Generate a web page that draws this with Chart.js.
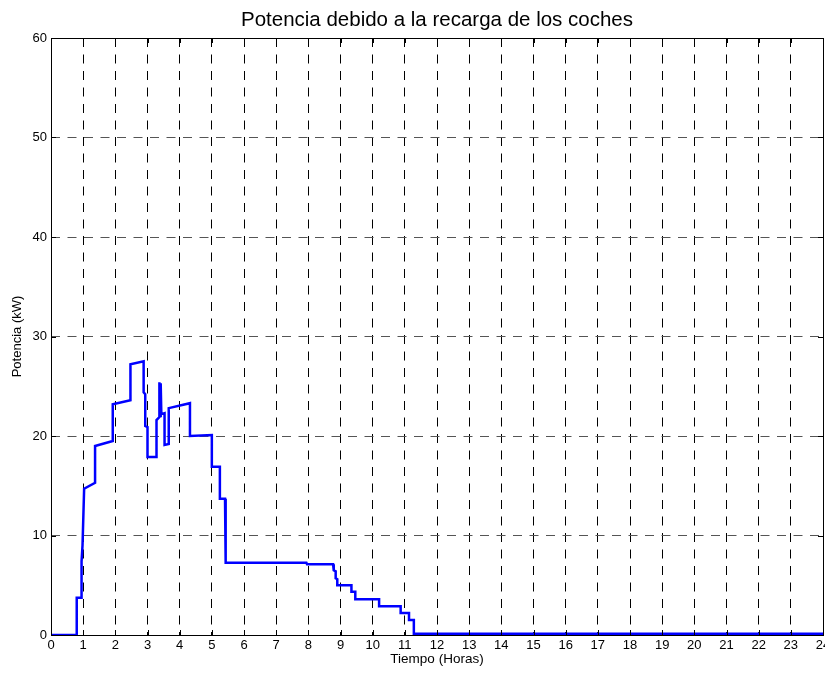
<!DOCTYPE html>
<html>
<head>
<meta charset="utf-8">
<script src="https://cdn.jsdelivr.net/npm/chart.js@4"></script>
<style>
  html, body { margin: 0; padding: 0; background: #fff; overflow: hidden; }
  #wrap { width: 850px; height: 674px; }
</style>
</head>
<body>
<div id="wrap"><canvas id="chart"></canvas></div>
<script>
// tiempo (horas) y potencia (kW)
var tiempo = [0, 0.80, 0.80, 0.95, 0.95, 0.98, 1.03, 1.37, 1.37, 1.92, 1.92, 2.47, 2.47, 2.88,
    2.88, 2.93, 2.93, 3.00, 3.00, 3.28, 3.28, 3.37, 3.37, 3.39, 3.41, 3.43, 3.53, 3.53, 3.66,
    3.66, 4.32, 4.32, 5.00, 5.00, 5.25, 5.25, 5.41, 5.42, 5.44, 7.94, 7.96, 8.77, 8.79, 8.85,
    8.85, 8.90, 8.90, 9.34, 9.34, 9.46, 9.46, 10.20, 10.20, 10.87, 10.87, 11.13, 11.13, 11.28,
    11.28, 24];
var potencia = [0, 0, 3.75, 3.75, 7.4, 9.0, 14.7, 15.3, 19.0, 19.5, 23.2, 23.6, 27.2, 27.5,
    24.4, 24.2, 21.0, 20.9, 17.9, 17.9, 21.6, 21.9, 25.4, 22.0, 25.3, 22.2, 22.3, 19.1, 19.2,
    22.8, 23.3, 20.0, 20.1, 16.9, 16.9, 13.7, 13.7, 10.5, 7.27, 7.25, 7.1, 7.1, 6.5, 6.4,
    5.7, 5.6, 5.0, 5.0, 4.35, 4.35, 3.6, 3.6, 2.9, 2.9, 2.2, 2.2, 1.5, 1.5,
    0.12, 0.12];

var xTicks = [0, 24, 1];
var yTicks = [0, 60, 10];

var puntos = tiempo.map(function (t, i) {
    return { x: t, y: potencia[i] };
});

var fuente = "'Liberation Sans', Arial, sans-serif";

// marco negro y marcas hacia dentro, como en matlab
var marco = {
    id: 'marco',
    afterDraw: function (chart) {
        var ctx = chart.ctx;
        var a = chart.chartArea;
        var sx = chart.scales.x;
        var sy = chart.scales.y;
        ctx.save();
        ctx.strokeStyle = '#000';
        ctx.lineWidth = 1;
        ctx.beginPath();
        for (var v = xTicks[0]; v <= xTicks[1]; v += xTicks[2]) {
            var px = Math.round(sx.getPixelForValue(v)) + 0.5;
            ctx.moveTo(px, a.bottom); ctx.lineTo(px, a.bottom - 5);
            ctx.moveTo(px, a.top); ctx.lineTo(px, a.top + 5);
        }
        for (var w = yTicks[0]; w <= yTicks[1]; w += yTicks[2]) {
            var py = Math.round(sy.getPixelForValue(w)) + 0.5;
            ctx.moveTo(a.left, py); ctx.lineTo(a.left + 5, py);
            ctx.moveTo(a.right, py); ctx.lineTo(a.right - 5, py);
        }
        ctx.stroke();
        ctx.strokeRect(Math.round(a.left) + 0.5, Math.round(a.top) + 0.5,
            Math.round(a.right - a.left), Math.round(a.bottom - a.top));
        ctx.restore();
    }
};

var ctx = document.getElementById('chart');
var chart = new Chart(ctx, {
    type: 'line',
    data: {
        datasets: [{
            data: puntos,
            borderColor: '#0000ff',
            borderWidth: 2.5,
            pointRadius: 0,
            tension: 0,
            fill: false
        }]
    },
    options: {
        responsive: true,
        maintainAspectRatio: false,
        animation: false,
        events: [],
        layout: { padding: { top: 0, right: 27, bottom: 0, left: 0 } },
        plugins: {
            legend: { display: false },
            tooltip: { enabled: false },
            title: {
                display: true,
                fullSize: false,
                text: 'Potencia debido a la recarga de los coches',
                color: '#000',
                font: { family: fuente, size: 20.5, weight: 'normal', lineHeight: 1.2 },
                padding: { top: 8, bottom: 5.4 }
            }
        },
        scales: {
            x: {
                type: 'linear',
                min: xTicks[0],
                max: xTicks[1],
                afterFit: function (s) { s.height = 39; },
                ticks: {
                    stepSize: xTicks[2],
                    autoSkip: false,
                    maxRotation: 0,
                    padding: 3,
                    color: '#000',
                    font: { family: fuente, size: 13 }
                },
                grid: {
                    color: '#000',
                    lineWidth: 1,
                    drawTicks: false
                },
                border: { display: false, dash: [9, 7.5] },
                title: {
                    display: true,
                    text: 'Tiempo (Horas)',
                    color: '#000',
                    font: { family: fuente, size: 13.5 },
                    padding: { top: 0, bottom: 7 }
                }
            },
            y: {
                type: 'linear',
                min: yTicks[0],
                max: yTicks[1],
                afterFit: function (s) { s.width = 51; },
                ticks: {
                    stepSize: yTicks[2],
                    padding: 4,
                    color: '#000',
                    font: { family: fuente, size: 13 }
                },
                grid: {
                    color: '#555',
                    lineWidth: 1,
                    drawTicks: false
                },
                border: { display: false, dash: [9, 7.5] },
                title: {
                    display: true,
                    text: 'Potencia (kW)',
                    color: '#000',
                    font: { family: fuente, size: 13 },
                    padding: { top: 10, bottom: 0 }
                }
            }
        }
    },
    plugins: [marco]
});
</script>
</body>
</html>
